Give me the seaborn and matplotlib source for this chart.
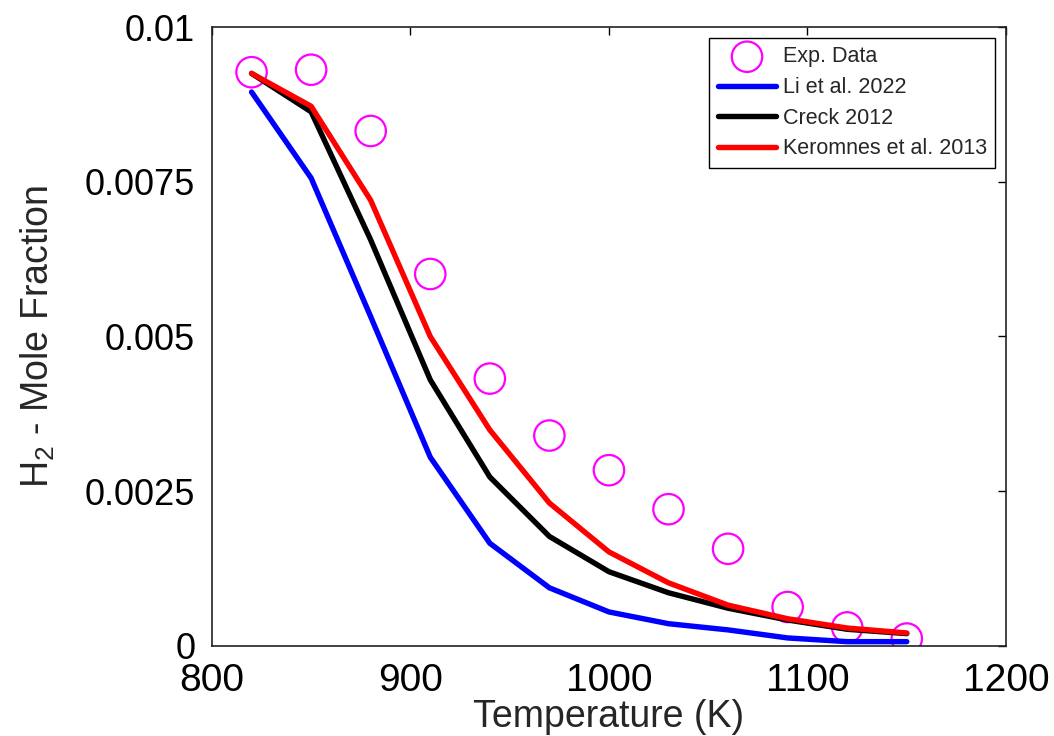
import pandas as pd
import matplotlib
matplotlib.use('Agg')
import matplotlib.pyplot as plt
import seaborn as sns

# temperatures (K)
temps = [820, 850, 880, 910, 940, 970, 1000, 1030, 1060, 1090, 1120, 1150]

# H2 mole fraction
exp_data = [0.00927, 0.00931, 0.00832, 0.00601, 0.00432, 0.00340, 0.00284,
            0.00221, 0.00157, 0.00063, 0.00030, 0.00012]
li_2022 = [0.00895, 0.00756, 0.00532, 0.00305, 0.00166, 0.00094, 0.00055,
           0.00036, 0.00026, 0.00013, 0.00007, 0.00007]
creck_2012 = [0.00925, 0.00863, 0.00656, 0.00430, 0.00273, 0.00177, 0.00120,
              0.00086, 0.00061, 0.00042, 0.00027, 0.00020]
keromnes_2013 = [0.00925, 0.00872, 0.00720, 0.00500, 0.00349, 0.00231, 0.00152,
                 0.00102, 0.00066, 0.00044, 0.00029, 0.00021]

models = ['Li et al. 2022', 'Creck 2012', 'Keromnes et al. 2013']
model_colors = ['#0000ff', '#000000', '#ff0000']

xticks = [800, 900, 1000, 1100, 1200]
yticks = [0, 0.0025, 0.005, 0.0075, 0.01]
ytick_labels = ['0', '0.0025', '0.005', '0.0075', '0.01']


def main():
   sns.set_style('white')
   plt.rcParams['font.family'] = ['Liberation Sans', 'DejaVu Sans']
   plt.rcParams['mathtext.default'] = 'regular'

   lines = pd.DataFrame({
      'T': temps * 3,
      'H2': li_2022 + creck_2012 + keromnes_2013,
      'model': [m for m in models for _ in temps],
   })
   exp = pd.DataFrame({'T': temps, 'H2': exp_data})

   fig = plt.figure(figsize=(10.54, 7.36), dpi=100)
   ax = fig.add_axes([0.201, 0.1223, 0.7535, 0.841])

   sns.scatterplot(data=exp, x='T', y='H2', marker='o', s=480,
                   facecolor='none', edgecolor='#ff00ff', linewidth=1.6,
                   label='Exp. Data', ax=ax, zorder=2)
   sns.lineplot(data=lines, x='T', y='H2', hue='model', hue_order=models,
                palette=model_colors, linewidth=3.9, ax=ax, zorder=3)

   ax.set_xlim(800, 1200)
   ax.set_ylim(0, 0.01)
   ax.set_xticks(xticks)
   ax.set_yticks(yticks)
   ax.set_yticklabels(ytick_labels)
   ax.tick_params(direction='in', length=6, width=1,
                  top=True, right=True, colors='black')
   ax.tick_params(axis='x', pad=12, labelsize=28)
   ax.tick_params(axis='y', pad=12, labelsize=26)
   for sp in ax.spines.values():
      sp.set_color('#222222')
      sp.set_linewidth(1.2)

   ax.set_xlabel('Temperature (K)', fontsize=27, labelpad=0)
   ax.set_ylabel('H$_2$ - Mole Fraction', fontsize=27, labelpad=20)

   leg = ax.legend(loc='upper right', fontsize=15.5, handlelength=2.7,
                   borderaxespad=0.5, fancybox=False, framealpha=1,
                   edgecolor='black', borderpad=0.4, labelspacing=0.45,
                   handletextpad=0.3)
   leg.get_frame().set_linewidth(1.0)

   fig.savefig('out.png', dpi=100)


if __name__ == '__main__':
   main()
